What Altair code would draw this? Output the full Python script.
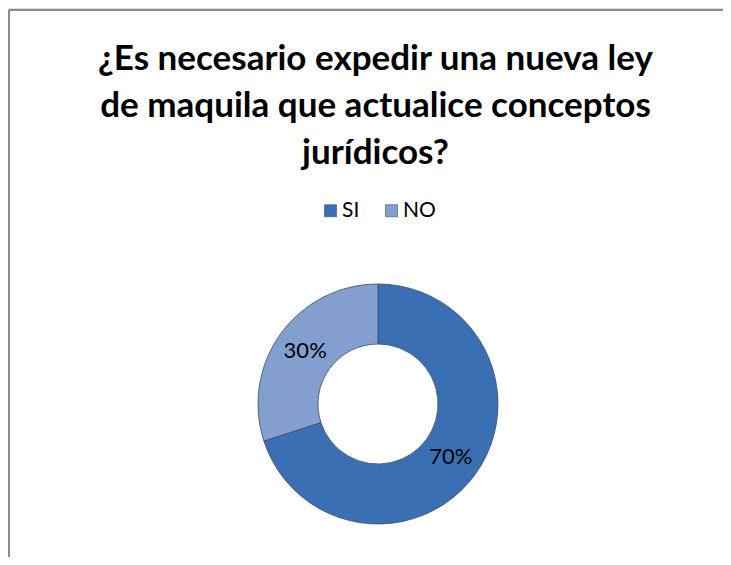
import altair as alt
import pandas as pd

categories = ["SI", "NO"]
values = [70, 30]
labels = ["70%", "30%"]
colors = ["#3b6fb4", "#839fcf"]
title_lines = [
    "¿Es necesario expedir una nueva ley",
    "de maquila que actualice conceptos",
    "jurídicos?",
]

W, H = 715, 549
CX, CY = 370, 396

df = pd.DataFrame({"cat": categories, "val": values, "label": labels, "order": list(range(len(categories)))})
frame_df = pd.DataFrame({"k": [0]})

theta = alt.Theta("val:Q", stack=True)
order = alt.Order("order:Q", sort="ascending")
color = alt.Color(
    "cat:N",
    scale=alt.Scale(domain=categories, range=colors),
    sort=categories,
    legend=alt.Legend(
        title=None,
        orient="none",
        direction="horizontal",
        legendX=312,
        legendY=192,
        symbolType="square",
        symbolSize=144,
        symbolStrokeWidth=0.6,
        symbolStrokeColor="#2f4f7f",
        labelFontSize=21,
        labelFont="Lato",
        labelColor="#000000",
        labelOffset=1,
        columnPadding=21,
        padding=0,
    ),
)

arcs = alt.Chart(df).mark_arc(
    innerRadius=60, outerRadius=120, stroke="#3b4b63", strokeWidth=0.8
).encode(theta=theta, color=color, order=order, x=alt.value(CX), y=alt.value(CY))

texts = alt.Chart(df).mark_text(
    radius=90, fontSize=22, font="Lato", color="#000000"
).encode(theta=theta, order=order, text="label:N", x=alt.value(CX), y=alt.value(CY))

top_rule = alt.Chart(frame_df).mark_rule(color="#8c8c8c", strokeWidth=2).encode(
    x=alt.value(1), x2=alt.value(W), y=alt.value(2)
)
left_rule = alt.Chart(frame_df).mark_rule(color="#8c8c8c", strokeWidth=2).encode(
    x=alt.value(1), y=alt.value(2), y2=alt.value(H)
)

chart = alt.layer(top_rule, left_rule, arcs, texts).properties(
    width=W,
    height=H,
    padding=0,
    autosize=alt.AutoSizeParams(type="none"),
    title=alt.TitleParams(
        text=title_lines,
        orient="top",
        anchor="middle",
        frame="group",
        font="Lato",
        fontSize=35,
        fontWeight="bold",
        color="#000000",
        lineHeight=47,
        offset=-163,
        dx=10,
    ),
).configure_view(stroke=None).configure(background="#ffffff")

chart.save("out.html", embed_options={"renderer": "svg", "actions": False})
